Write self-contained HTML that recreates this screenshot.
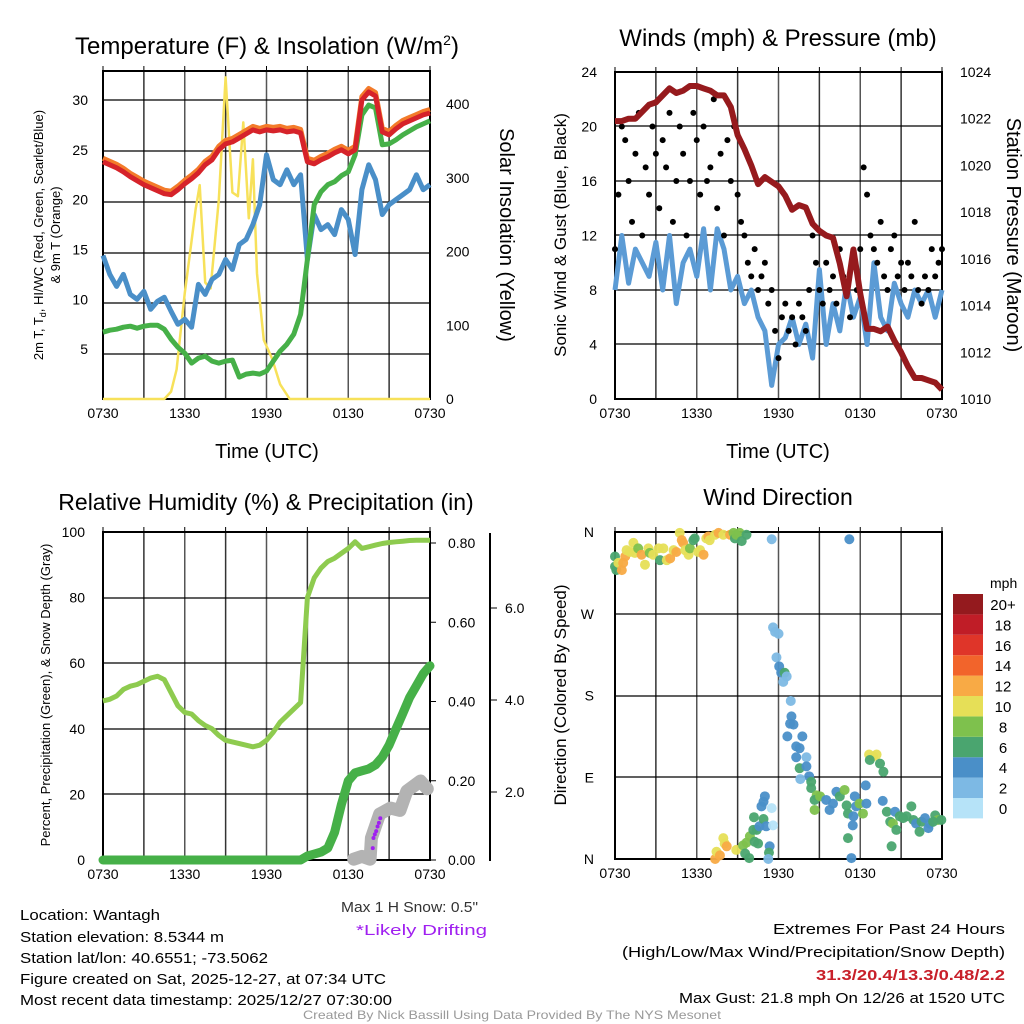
<!DOCTYPE html>
<html><head><meta charset="utf-8"><style>
html,body{margin:0;padding:0;background:#fff}
svg{display:block;font-family:"Liberation Sans",Arial,sans-serif}
</style></head><body>
<svg id="fig" width="1024" height="1024" viewBox="0 0 1024 1024" xmlns="http://www.w3.org/2000/svg">
<rect width="1024" height="1024" fill="#fff"/>
<g id="texts" font-size="15" fill="#000">
<text x="267" y="54" font-size="24" text-anchor="middle">Temperature (F) &amp; Insolation (W/m<tspan dy="-9" font-size="14">2</tspan><tspan dy="9">)</tspan></text>
<text x="778" y="46" font-size="24" text-anchor="middle">Winds (mph) &amp; Pressure (mb)</text>
<text x="266" y="510" font-size="23" text-anchor="middle">Relative Humidity (%) &amp; Precipitation (in)</text>
<text x="778" y="505" font-size="23" text-anchor="middle">Wind Direction</text>
<text x="267" y="458" font-size="20" text-anchor="middle">Time (UTC)</text>
<text x="778" y="458" font-size="20" text-anchor="middle">Time (UTC)</text>
<text transform="translate(43,235) rotate(-90)" font-size="13" text-anchor="middle">2m T, T<tspan font-size="9" dy="3">d</tspan><tspan dy="-3">, HI/WC (Red, Green, Scarlet/Blue)</tspan></text>
<text transform="translate(60,235) rotate(-90)" font-size="13" text-anchor="middle">&amp; 9m T (Orange)</text>
<text transform="translate(500,235) rotate(90)" font-size="20" text-anchor="middle">Solar Insolation (Yellow)</text>
<text transform="translate(566,235) rotate(-90)" font-size="17" text-anchor="middle">Sonic Wind &amp; Gust (Blue, Black)</text>
<text transform="translate(1007,235) rotate(90)" font-size="20" text-anchor="middle">Station Pressure (Maroon)</text>
<text transform="translate(50,695) rotate(-90)" font-size="13" text-anchor="middle">Percent, Precipitation (Green), &amp; Snow Depth (Gray)</text>
<text transform="translate(566,695) rotate(-90)" font-size="17" text-anchor="middle">Direction (Colored By Speed)</text>
<text x="20" y="920" textLength="140" lengthAdjust="spacingAndGlyphs">Location: Wantagh</text>
<text x="20" y="942" textLength="204" lengthAdjust="spacingAndGlyphs">Station elevation: 8.5344 m</text>
<text x="20" y="963" textLength="248" lengthAdjust="spacingAndGlyphs">Station lat/lon: 40.6551; -73.5062</text>
<text x="20" y="984" textLength="366" lengthAdjust="spacingAndGlyphs">Figure created on Sat, 2025-12-27, at 07:34 UTC</text>
<text x="20" y="1005" textLength="372" lengthAdjust="spacingAndGlyphs">Most recent data timestamp: 2025/12/27 07:30:00</text>
<text x="341" y="912" textLength="137" lengthAdjust="spacingAndGlyphs" fill="#333">Max 1 H Snow: 0.5"</text>
<text x="356" y="935" textLength="131" lengthAdjust="spacingAndGlyphs" fill="#a020f0">*Likely Drifting</text>
<text x="773" y="934" textLength="232" lengthAdjust="spacingAndGlyphs">Extremes For Past 24 Hours</text>
<text x="622" y="957" textLength="383" lengthAdjust="spacingAndGlyphs">(High/Low/Max Wind/Precipitation/Snow Depth)</text>
<text x="816" y="980" textLength="189" lengthAdjust="spacingAndGlyphs" fill="#c8202a" font-weight="bold">31.3/20.4/13.3/0.48/2.2</text>
<text x="679" y="1003" textLength="326" lengthAdjust="spacingAndGlyphs">Max Gust: 21.8 mph On 12/26 at 1520 UTC</text>
<text x="303" y="1019" font-size="12" textLength="418" lengthAdjust="spacingAndGlyphs" fill="#999">Created By Nick Bassill Using Data Provided By The NYS Mesonet</text>
</g>
</svg>
<script>
// ---- data (time in hours since 0730 UTC, 30-min steps) ----
const xTickLabels = ["0730","1330","1930","0130","0730"];
const tempRed = [23.8,23.5,23.2,22.8,22.3,21.9,21.5,21.2,20.9,20.6,20.5,21.0,21.6,22.1,22.7,23.5,24.0,25.0,25.6,25.8,26.2,26.6,27.0,26.8,27.0,26.9,27.0,26.8,26.9,26.7,23.8,23.6,24.0,24.3,24.7,25.0,24.6,25.0,30.0,30.8,30.4,26.8,26.5,27.1,27.6,27.9,28.2,28.5,28.7];
const dewGreen = [6.7,6.9,7.0,7.2,7.3,7.1,7.3,7.4,7.4,7.0,6.0,5.2,4.6,3.6,4.1,4.3,3.8,3.6,3.8,3.9,2.2,2.5,2.6,2.5,2.8,3.8,4.8,5.5,6.5,8.5,14.0,19.5,20.8,21.5,21.8,22.4,22.8,24.5,28.5,29.5,29.2,25.5,25.6,26.0,26.5,26.9,27.3,27.6,27.9];
const chillBlue = [14.4,12.5,11.3,12.5,10.5,10.0,10.8,9.0,9.8,10.2,8.8,7.5,8.0,7.2,11.5,10.5,12.0,12.5,14.0,13.0,15.5,16.0,17.5,19.5,24.5,22.0,21.5,23.0,21.5,22.5,14.0,18.5,17.0,17.5,16.5,19.0,18.0,14.5,21.0,23.5,22.0,18.5,19.5,20.0,20.5,21.0,22.5,21.0,21.5];
const insolTimes = [0,4.5,5.0,5.4,6.0,6.4,6.8,7.1,7.5,7.9,8.5,9.0,9.5,9.9,10.3,10.7,11.0,11.3,11.8,12.4,13.0,13.7,24];
const insolVals  = [0,0,10,40,144,200,257,290,158,150,270,436,280,275,375,245,325,170,80,55,20,0,0];
const windSpeed = [8,12,8.5,11,10,9,11.5,8,12,7,10,11,9,12.5,8,12.5,11,8,9,7,8,6,5,1,4,4.5,6,4,5.5,3,9.5,4,7,5,8.5,6,7.5,4,10,6,5,8.5,7,6,8,7,8,6,8];
const windGust = [11,15,20,19,16,13,18,21,12,17,15,20,18,14,19,17,21,13,16,20,18,12,16,21,19,15,20,16,17,22,14,18,12,19,16,20,15,13,12,10,9,11,8,9,10,7,8,5,3,6,7,5,6,4,7,6,5,8,12,10,8,7,10,8,9,7,11,9,8,6,10,8,11,17,15,12,11,10,13,9,8,11,12,9,10,8,10,9,13,8,7,9,8,11,9,10,11];
const pressure = [1021.9,1021.9,1022.0,1022.0,1022.3,1022.6,1022.7,1023.0,1023.3,1023.1,1023.2,1023.4,1023.4,1023.3,1023.2,1023.0,1023.0,1022.5,1021.3,1020.7,1020.0,1019.2,1019.5,1019.3,1019.1,1018.7,1018.1,1018.3,1018.2,1017.5,1017.2,1017.0,1016.9,1015.8,1014.4,1016.4,1014.5,1013.0,1013.0,1012.9,1013.1,1012.5,1012.0,1011.4,1010.9,1010.9,1010.8,1010.7,1010.4];
const relHum = [48.5,49,50,52,53,53.5,54.5,55.5,56,55,51,47,45,44.5,42.5,41,40,38,36.5,36,35.5,35,34.5,35,36.5,39,42,44,46,48,80,86,89,91,92,93.5,95,97,95,95.5,96,96.5,96.8,97,97.2,97.4,97.5,97.5,97.5];
const precip = [0,0,0,0,0,0,0,0,0,0,0,0,0,0,0,0,0,0,0,0,0,0,0,0,0,0,0,0,0,0,0.01,0.015,0.02,0.03,0.07,0.14,0.2,0.22,0.225,0.23,0.24,0.26,0.29,0.33,0.37,0.41,0.44,0.47,0.49];
const snowTimes = [18.4,19.0,19.6,19.7,20.3,21.1,21.8,22.3,23.3,23.8];
const snowDepth = [0.54,0.6,0.54,1.0,1.52,1.65,1.6,2.02,2.24,2.07];
const driftTimes = [19.8,19.85,19.95,20.05,20.15,20.25,20.35];
const driftDepth = [0.78,1.0,1.08,1.15,1.25,1.33,1.43];
const dirTimes = [0,0,0.1,0.25,0.5,0.6,0.75,0.85,1.1,1.35,1.45,1.7,1.95,2.2,2.45,2.55,2.8,3.2,3.3,3.55,3.8,4.05,4.3,4.5,4.75,4.9,5.0,5.15,5.4,5.5,5.75,5.85,6.1,6.25,6.5,6.7,6.85,6.95,7.35,7.6,7.95,8.45,8.7,8.8,8.9,9.15,9.3,9.65,11.5,17.2,
11.6,11.75,12.0,11.85,12.05,12.2,12.45,12.35,12.6,12.9,12.95,12.85,13.1,12.65,13.75,13.3,13.55,13.3,14.05,13.55,14.05,14.25,13.6,14.4,14.4,14.8,14.65,15.05,14.65,15.5,15.75,16.0,16.25,16.5,16.85,17.0,17.1,17.6,17.7,17.95,18.2,18.45,18.4,17.5,17.45,17.1,17.35,
18.65,18.95,19.2,18.7,19.45,19.7,19.65,19.95,20.55,20.2,20.4,20.3,20.65,20.9,21.15,21.4,21.75,21.9,22.1,22.35,22.5,22.75,23.0,23.1,23.5,23.7,23.95,23.35,
7.35,7.45,7.7,7.95,8.05,8.2,8.9,9.4,9.65,9.55,9.85,9.9,10.15,10.4,10.2,10.6,10.75,10.9,11.0,10.9,11.1,10.25,10.5,11.5,11.6,11.35,11.3,11.25];
const dirDeg = [333,322,318,326,318,326,333,340,338,348,337,342,335,324,342,337,335,342,329,342,329,331,340,338,359,351,348,340,335,342,351,353,338,340,335,353,355,351,357,359,357,357,359,353,357,359,350,357,352,352,
255,250,248,222,212,205,205,195,201,174,157,149,148,135,135,124,122,112,112,100,102,91,88,85,78,70,65,69,54,65,54,61,74,69,76,59,50,69,58,61,50,61,81,47,37,23,1,
115,113,115,109,105,96,64,52,52,41,39,14,32,47,45,47,58,43,39,30,41,45,34,39,48,43,43,41,
0,8,4,23,17,14,10,15,18,6,1,25,32,32,46,36,58,63,69,44,36,19,17,56,37,14,7,0];
const dirSpeed = [6,6,6,10,12,12,12,10,10,10,10,8,12,10,10,8,10,10,6,10,10,12,10,12,10,12,12,10,10,8,6,6,10,10,12,10,12,10,10,12,10,12,8,6,8,8,6,6,2,4,
2,2,2,2,4,4,6,2,2,2,4,4,4,4,4,4,4,4,2,6,4,4,2,6,6,8,6,8,8,4,4,4,4,6,8,6,6,4,4,8,8,4,4,4,4,6,4,
10,10,10,6,6,6,4,6,4,6,8,6,6,6,6,6,6,6,4,6,6,4,4,4,6,8,6,6,
12,10,12,10,10,12,10,8,8,6,6,8,6,6,6,4,4,4,4,6,4,6,6,0,0,4,6,2];
const speedBins = ["0","2","4","6","8","10","12","14","16","18","20+"];
const binColors = ["#b6e3f8","#7db9e4","#4a8fc8","#4aa56f","#7ec14d","#e6df57","#f8aa45","#f2642b","#df3529","#c01d27","#941a1e"];

// ---- helpers ----
const NS="http://www.w3.org/2000/svg";
const svg=document.getElementById('fig');
function mk(tag,attrs,parent){const e=document.createElementNS(NS,tag);for(const k in attrs)e.setAttribute(k,attrs[k]);(parent||svg).appendChild(e);return e;}
function lin(d0,d1,r0,r1){return v=>r0+(v-d0)*(r1-r0)/(d1-d0);}
function halfHours(n){const a=[];for(let i=0;i<n;i++)a.push(i*0.5);return a;}
function pathD(xs,ys,fx,fy){return xs.map((t,i)=>(i?'L':'M')+fx(t).toFixed(1)+','+fy(ys[i]).toFixed(1)).join(' ');}
function frame(x0,x1,y0,y1,hGrid,name){
  const g=mk('g',{});
  
  
  for(let i=0;i<=8;i++){const x=x0+(x1-x0)*i/8;mk('line',{x1:x,x2:x,y1:y0,y2:y1,stroke:i%2?'#333':'#555','stroke-width':1.5},g);mk('line',{x1:x,x2:x,y1:y0-5,y2:y0,stroke:'#000'},g);}
  hGrid.forEach(y=>mk('line',{x1:x0,x2:x1,y1:y,y2:y,stroke:'#000','stroke-width':1.3},g));
  mk('rect',{x:x0,y:y0,width:x1-x0,height:y1-y0,fill:'none',stroke:'#000','stroke-width':2},g);
  xTickLabels.forEach((l,i)=>{const t=mk('text',{x:x0+(x1-x0)*i/4,y:y1+19,'font-size':14,'text-anchor':'middle'},g);t.textContent=l;});
  return g;
}
function label(x,y,txt,anchor,name){const t=mk('text',{x:x,y:y,'font-size':14,'text-anchor':anchor});t.textContent=txt;
  
  return t;}
const hh=halfHours(49);

// ---- Panel 1: temperature ----
{
 const fx=lin(0,24,103,430), fy=lin(0,30,399,100), fi=lin(0,400,399,104);
 frame(103,430,71,399,[100,151,202,253,303,354],'temperature-panel');
 [5,10,15,20,25,30].forEach(v=>label(88,fy(v)+5,String(v),'end','temp-tick'));
 [0,100,200,300,400].forEach(v=>label(446,fi(v)+5,String(v),'start','insol-tick'));
 const ins=mk('path',{d:pathD(insolTimes,insolVals,fx,fi),fill:'none',stroke:'#f7e15a','stroke-width':2.5,'stroke-linejoin':'round'});
 
 
 const b=mk('path',{d:pathD(hh,chillBlue,fx,fy),fill:'none',stroke:'#4a8fc8','stroke-width':5,'stroke-linejoin':'round'});
 
 
 const g=mk('path',{d:pathD(hh,dewGreen,fx,fy),fill:'none',stroke:'#46b048','stroke-width':5,'stroke-linejoin':'round'});
 
 
 const o=mk('path',{d:pathD(hh,tempRed.map(v=>v+0.35),fx,fy),fill:'none',stroke:'#f37b2a','stroke-width':5,'stroke-linejoin':'round'});
 
 
 const r=mk('path',{d:pathD(hh,tempRed,fx,fy),fill:'none',stroke:'#d6232a','stroke-width':5,'stroke-linejoin':'round'});
 
 
}
// ---- Panel 2: winds ----
{
 const fx=lin(0,24,615,942), fy=lin(0,24,399,72), fp=lin(1010,1024,399,72);
 frame(615,942,72,399,[126,181,235,290,344],'winds-panel');
 [0,4,8,12,16,20,24].forEach(v=>label(597,fy(v)+5,String(v),'end','wind-tick'));
 [1010,1012,1014,1016,1018,1020,1022,1024].forEach(v=>label(960,fp(v)+5,String(v),'start','pressure-tick'));
 const w=mk('path',{d:pathD(hh,windSpeed,fx,fy),fill:'none',stroke:'#5b9bd5','stroke-width':5,'stroke-linejoin':'round'});
 
 
 windGust.forEach((v,i)=>{const c=mk('circle',{cx:fx(i*0.25),cy:fy(v),r:3,fill:'#000'});
  
  });
 const p=mk('path',{d:pathD(hh,pressure,fx,fp),fill:'none',stroke:'#961a1d','stroke-width':6,'stroke-linejoin':'round'});
 
 
}
// ---- Panel 3: humidity ----
{
 const fx=lin(0,24,103,430), fy=lin(0,100,860,532), fpr=lin(0,0.8,860,543), fs=lin(0,2,884,792);
 frame(103,430,532,860,[598,663,729,794],'humidity-panel');
 [0,20,40,60,80,100].forEach(v=>label(85,fy(v)+5,String(v),'end','rh-tick'));
 [0,0.2,0.4,0.6,0.8].forEach(v=>{label(448,fpr(v)+5,v.toFixed(2),'start','precip-tick');mk('line',{x1:430,x2:436,y1:fpr(v),y2:fpr(v),stroke:'#000'});});
 mk('line',{x1:490,x2:490,y1:533,y2:861,stroke:'#000','stroke-width':2});
 [2,4,6].forEach(v=>{label(505,fs(v)+5,v.toFixed(1),'start','snow-tick');mk('line',{x1:490,x2:497,y1:fs(v),y2:fs(v),stroke:'#000'});});
 const h=mk('path',{d:pathD(hh,relHum,fx,fy),fill:'none',stroke:'#8ecb4f','stroke-width':5,'stroke-linejoin':'round'});
 
 
 const s=mk('path',{d:pathD(snowTimes,snowDepth,fx,fs),fill:'none',stroke:'#b3b3b3','stroke-width':13,'stroke-linejoin':'round','stroke-linecap':'round'});
 
 
 const pr=mk('path',{d:pathD(hh,precip,fx,fpr),fill:'none',stroke:'#46b048','stroke-width':9,'stroke-linejoin':'round','stroke-linecap':'round'});
 
 
 driftTimes.forEach((t,i)=>{const c=mk('circle',{cx:fx(t),cy:fs(driftDepth[i]),r:2,fill:'#a020f0'});
  
  });
}
// ---- Panel 4: wind direction ----
{
 const fx=lin(0,24,615,942), fy=lin(0,360,859,532);
 frame(615,942,532,859,[614,696,777],'direction-panel');
 [["N",0],["E",90],["S",180],["W",270],["N",360]].forEach(a=>label(594,fy(a[1])+5,a[0],'end','direction-tick'));
 dirTimes.forEach((t,i)=>{const bin=Math.min(10,Math.floor(dirSpeed[i]/2));
  const c=mk('circle',{cx:fx(t),cy:fy(dirDeg[i]),r:5,fill:binColors[bin],'fill-opacity':0.95});
  
  });
 const lg=mk('g',{});
 
 
 const t=mk('text',{x:990,y:588,'font-size':14},lg);t.textContent='mph';
 speedBins.forEach((b,i)=>{const y=798-i*20.4;
  mk('rect',{x:953,y:y,width:30,height:20.4,fill:binColors[i]},lg);
  const tx=mk('text',{x:1003,y:y+16,'font-size':15,'text-anchor':'middle'},lg);tx.textContent=b;});
}
</script>
</body></html>
